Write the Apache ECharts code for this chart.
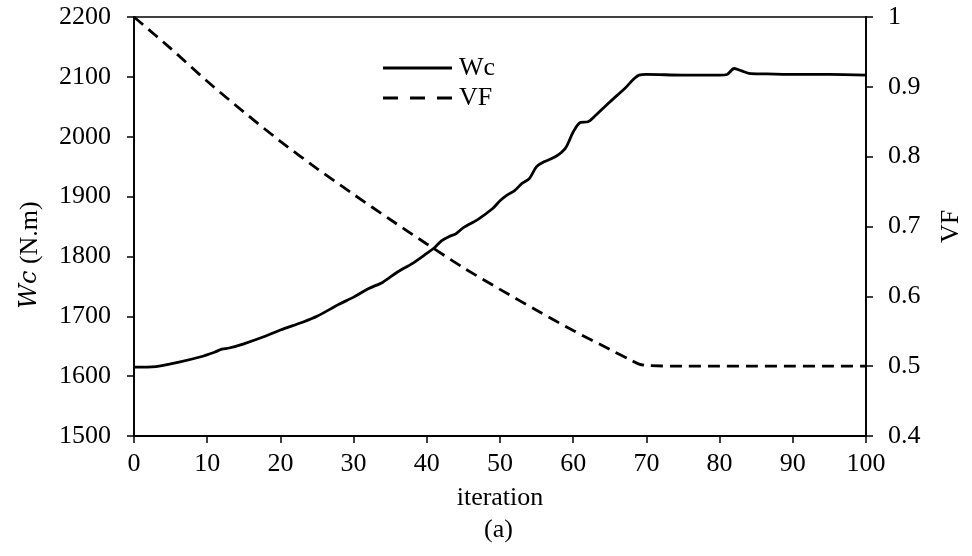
<!DOCTYPE html>
<html>
<head>
<meta charset="utf-8">
<script src="https://cdn.jsdelivr.net/npm/echarts@6/dist/echarts.min.js"></script>
<style>html,body{margin:0;padding:0;background:#fff}#c{width:972px;height:556px}</style>
</head>
<body>
<div id="c"></div>
<script>
var wcIter = [0,3,6,9,11,12,13,15,18,20,23,25,28,30,32,34,36,38,40,41,42,43,44,45,47,49,50,51,52,53,54,55,56,57,58,59,60,61,62,63,65,67,69,70,75,80,81,82,83,84,86,90,95,100];
var wcVals = [1615,1616,1623,1632,1640,1645,1647,1654,1667,1677,1690,1700,1720,1732,1746,1757,1774,1788,1805,1814,1826,1833,1838,1848,1862,1880,1893,1903,1910,1922,1930,1950,1958,1963,1970,1982,2008,2024,2025,2035,2058,2080,2103,2104,2103,2103,2104,2114,2110,2106,2105,2104,2104,2103];
var vfIter = [0,5,10,15,20,25,30,35,40,45,50,55,60,65,68,69,70,75,80,85,90,95,100];
var vfVals = [1.0,0.955,0.908,0.864,0.822,0.783,0.746,0.710,0.675,0.641,0.610,0.580,0.551,0.524,0.508,0.503,0.501,0.5,0.5,0.5,0.5,0.5,0.5];

function pairs(xs, ys){ return xs.map(function(x,i){ return [x, ys[i]]; }); }

var font = 'Liberation Serif';
var fs = 26;
var dashIcon = 'path://M0,0h15v3h-15z M27,0h15v3h-15z M54,0h15v3h-15z';
var chart = echarts.init(document.getElementById('c'), null, {renderer:'canvas'});
chart.setOption({
  animation: false,
  backgroundColor: '#fff',
  textStyle: {fontFamily: font, color: '#000'},
  grid: {left: 134, right: 105, top: 17, bottom: 120, show: true, borderColor: '#000', borderWidth: 1.5, backgroundColor: 'transparent'},
  title: {text: '(a)', left: 484, top: 517, padding: 0, textStyle: {fontFamily: font, fontSize: fs, fontWeight: 'normal', color: '#000'}},
  legend: {
    left: 383, top: 55, padding: 0, orient: 'vertical', itemWidth: 69, itemHeight: 3, itemGap: 4,
    textStyle: {fontFamily: font, fontSize: fs, color: '#000', padding: [0,0,0,2]},
    data: [{name: 'Wc', icon: 'rect'}, {name: 'VF', icon: dashIcon}],
    itemStyle: {color: '#000'}
  },
  graphic: [{
    type: 'text', x: 30, y: 255, rotation: Math.PI / 2,
    style: {
      text: '{i|Wc} (N.m)', x: 0, y: 0, align: 'center', verticalAlign: 'middle',
      fontFamily: font, fontSize: fs, fill: '#000',
      rich: {i: {fontFamily: 'DejaVu Serif', fontStyle: 'italic', fontSize: 24, fill: '#000'}}
    }
  }],
  xAxis: {
    type: 'value', min: 0, max: 100, interval: 10,
    name: 'iteration', nameLocation: 'middle', nameGap: 49,
    nameTextStyle: {fontFamily: font, fontSize: fs, color: '#000'},
    axisLine: {lineStyle: {color: '#000', width: 1.8}},
    axisTick: {show: true, inside: false, length: 7, lineStyle: {color: '#000', width: 1.5}},
    axisLabel: {fontFamily: font, fontSize: fs, color: '#000', margin: 15},
    splitLine: {show: false}
  },
  yAxis: [{
    type: 'value', min: 1500, max: 2200, interval: 100, position: 'left',
    axisLine: {show: true, lineStyle: {color: '#000', width: 1.8}},
    axisTick: {show: true, length: 7, lineStyle: {color: '#000', width: 1.5}},
    axisLabel: {fontFamily: font, fontSize: fs, color: '#000', margin: 23, formatter: function(v){ return String(v); }},
    splitLine: {show: false}
  }, {
    type: 'value', min: 0.4, max: 1, interval: 0.1, position: 'right',
    name: 'VF', nameLocation: 'middle', nameGap: 72, nameRotate: 90,
    nameTextStyle: {fontFamily: font, fontSize: fs, color: '#000'},
    axisLine: {show: true, lineStyle: {color: '#000', width: 1.8}},
    axisTick: {show: true, length: 7, lineStyle: {color: '#000', width: 1.5}},
    axisLabel: {fontFamily: font, fontSize: fs, color: '#000', margin: 22, formatter: function(v){ return String(Math.round(v*10)/10); }},
    splitLine: {show: false}
  }],
  series: [{
    name: 'Wc', type: 'line', yAxisIndex: 0, data: pairs(wcIter, wcVals),
    symbol: 'none', smooth: 0.3, lineStyle: {color: '#000', width: 2.8}, itemStyle: {color: '#000'}
  }, {
    name: 'VF', type: 'line', yAxisIndex: 1, data: pairs(vfIter, vfVals),
    symbol: 'none', smooth: 0.3, lineStyle: {color: '#000', width: 2.8, type: [12, 7]}, itemStyle: {color: '#000'}
  }]
});
</script>
</body>
</html>
